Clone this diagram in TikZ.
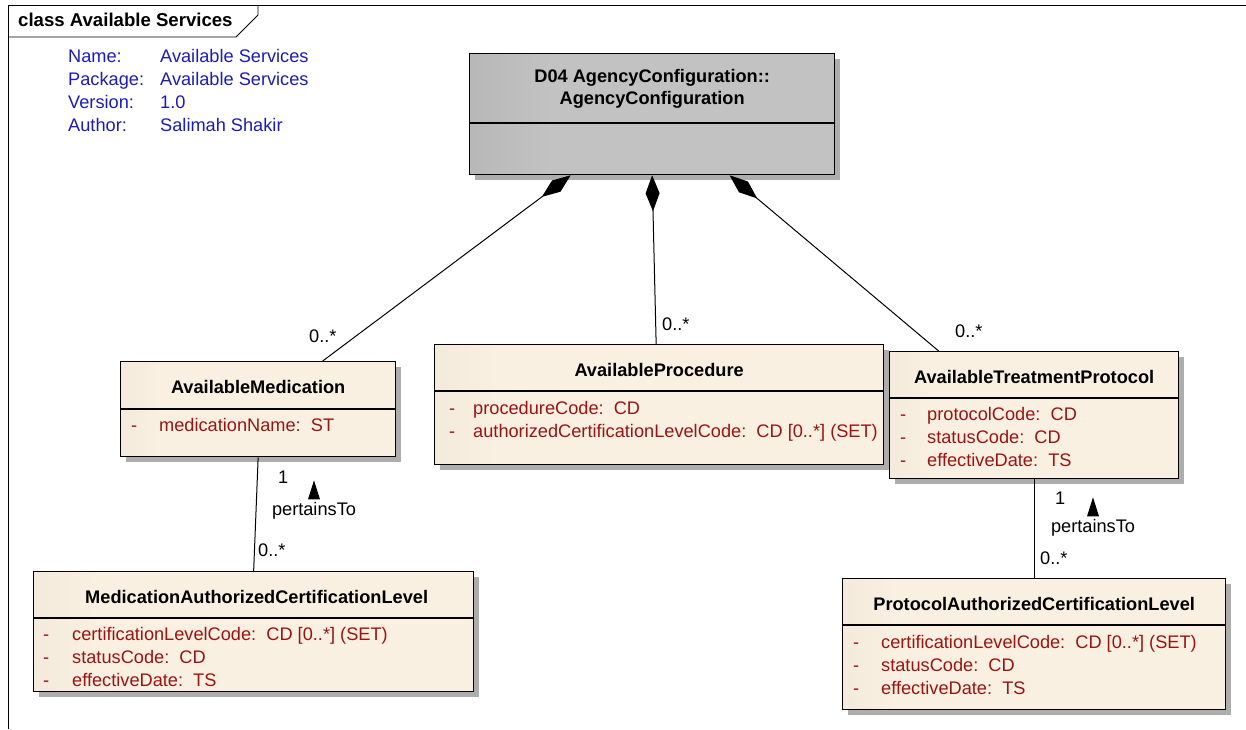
\documentclass[tikz,border=0pt]{standalone}
\usepackage{fontspec}
\setmainfont{Liberation Sans}
\usetikzlibrary{arrows.meta,shadows,calc}

\definecolor{infoblue}{RGB}{28,28,185}
\definecolor{attrred}{RGB}{155,20,20}
\definecolor{beigelight}{RGB}{250,240,226}
\definecolor{beigedark}{RGB}{224,214,199}
\definecolor{graydark}{RGB}{160,160,160}
\definecolor{graylight}{RGB}{194,194,194}

\pgfdeclarehorizontalshading{beigeshade}{100bp}{color(0bp)=(beigedark); color(32bp)=(beigelight); color(100bp)=(beigelight)}
\pgfdeclarehorizontalshading{grayshade}{100bp}{color(0bp)=(graydark); color(36bp)=(graylight); color(100bp)=(graylight)}

\tikzset{
  umlclass/.style={draw, line width=1.3pt, anchor=north west, inner sep=0pt, shading=beigeshade,
    drop shadow={shadow xshift=5pt, shadow yshift=-5pt, fill=black!32, opacity=1}},
  classname/.style={font=\fontsize{18.2}{22}\selectfont\bfseries, inner sep=0pt, align=center},
  attr/.style={anchor=west, inner sep=0pt, text=attrred, text height=13pt, text depth=0pt},
  mult/.style={anchor=west, inner sep=0pt, text height=13pt, text depth=0pt},
  info/.style={anchor=west, inner sep=0pt, text=infoblue, text height=13pt, text depth=0pt},
  comp/.style={arrows={Diamond[length=36pt,width=14pt]-}, line width=1pt},
}

\begin{document}
\begin{tikzpicture}[x=1pt, y=-1pt, font=\fontsize{18.2}{21}\selectfont]
	\useasboundingbox (0,0) rectangle (1246,729);
	% diagram frame
	\draw[line width=0.8pt] (8,729) -- (8,5) -- (1246,5);
	\draw[line width=0.8pt] (8,37) -- (236,37) -- (258,15) -- (258,5);
	\node[anchor=west, inner sep=0pt, font=\fontsize{18.6}{21}\selectfont\bfseries] (frametitle) at (18,20) {class Available Services};
	\foreach \key/\val [count=\i] in {Name:/Available Services, Package:/Available Services, Version:/1.0, Author:/Salimah Shakir} {
	  \node[info] (key\i) at (68,{56+23*(\i-1)}) {\key};
	  \node[info] (val\i) at (160,{56+23*(\i-1)}) {\val};
	}

	% classes
	\node[umlclass, shading=grayshade, minimum width=365pt, minimum height=121pt] (agency) at (469,53) {};
	\draw[line width=1.3pt] ([yshift=-70pt]agency.north west) -- ([yshift=-70pt]agency.north east);
	\node[classname] (agencyT) at ($(agency.north)+(0,36)$) {D04 AgencyConfiguration::\\AgencyConfiguration};

	\node[umlclass, minimum width=275pt, minimum height=95pt] (med) at (120,361) {};
	\draw[line width=1.3pt] ([yshift=-48pt]med.north west) -- ([yshift=-48pt]med.north east);
	\node[classname] (medT) at ($(med.north)+(0,26)$) {AvailableMedication};
	\node[attr] (med-d1) at ($(med.north west)+(11,64)$) {-};
	\node[attr] (med-a1) at ($(med.north west)+(39,64)$) {medicationName:~~ST};

	\node[umlclass, minimum width=449pt, minimum height=120pt] (proc) at (434,344) {};
	\draw[line width=1.3pt] ([yshift=-47pt]proc.north west) -- ([yshift=-47pt]proc.north east);
	\node[classname] (procT) at ($(proc.north)+(0,26)$) {AvailableProcedure};
	\foreach \txt [count=\i] in {procedureCode:~~CD, authorizedCertificationLevelCode:~~CD [0..*] (SET)} {
	  \node[attr] (proc-d\i) at ($(proc.north west)+(15,{64+23*(\i-1)})$) {-};
	  \node[attr] (proc-a\i) at ($(proc.north west)+(39,{64+23*(\i-1)})$) {\txt};
	}

	\node[umlclass, minimum width=289pt, minimum height=127pt] (atp) at (889,351) {};
	\draw[line width=1.3pt] ([yshift=-47pt]atp.north west) -- ([yshift=-47pt]atp.north east);
	\node[classname] (atpT) at ($(atp.north)+(0,26)$) {AvailableTreatmentProtocol};
	\foreach \txt [count=\i] in {protocolCode:~~CD, statusCode:~~CD, effectiveDate:~~TS} {
	  \node[attr] (atp-d\i) at ($(atp.north west)+(11,{63+23*(\i-1)})$) {-};
	  \node[attr] (atp-a\i) at ($(atp.north west)+(38,{63+23*(\i-1)})$) {\txt};
	}

	\node[umlclass, minimum width=440pt, minimum height=120pt] (macl) at (33,571) {};
	\draw[line width=1.3pt] ([yshift=-47pt]macl.north west) -- ([yshift=-47pt]macl.north east);
	\node[classname] (maclT) at ($(macl.north)+(3,26)$) {MedicationAuthorizedCertificationLevel};
	\foreach \txt [count=\i] in {certificationLevelCode:~~CD [0..*] (SET), statusCode:~~CD, effectiveDate:~~TS} {
	  \node[attr] (macl-d\i) at ($(macl.north west)+(10,{63+23*(\i-1)})$) {-};
	  \node[attr] (macl-a\i) at ($(macl.north west)+(39,{63+23*(\i-1)})$) {\txt};
	}

	\node[umlclass, minimum width=383pt, minimum height=131pt] (pacl) at (842,578) {};
	\draw[line width=1.3pt] ([yshift=-47pt]pacl.north west) -- ([yshift=-47pt]pacl.north east);
	\node[classname] (paclT) at ($(pacl.north)+(0,26)$) {ProtocolAuthorizedCertificationLevel};
	\foreach \txt [count=\i] in {certificationLevelCode:~~CD [0..*] (SET), statusCode:~~CD, effectiveDate:~~TS} {
	  \node[attr] (pacl-d\i) at ($(pacl.north west)+(11,{64+23*(\i-1)})$) {-};
	  \node[attr] (pacl-a\i) at ($(pacl.north west)+(39,{64+23*(\i-1)})$) {\txt};
	}

	% compositions
	\draw[comp] ([xshift=-81.5pt]agency.south) -- ([xshift=64.5pt]med.north);
	\draw[comp] (agency.south) -- ([xshift=-3pt]proc.north);
	\draw[comp] ([xshift=77.5pt]agency.south) -- ([xshift=-95.5pt]atp.north);
	\node[mult] (m1) at (309,336) {0..*};
	\node[mult] (m2) at (662,324) {0..*};
	\node[mult] (m3) at (955,331) {0..*};

	% associations
	\draw[line width=1pt] (med.south) -- (macl.north);
	\node[mult] (medOne) at (278,477) {1};
	\node[mult, anchor=center] (medRole) at (314,509) {pertainsTo};
	\fill ($(medRole.north)+(-6,-3)$) -- ($(medRole.north)+(6,-3)$) -- ($(medRole.north)+(0,-22)$) -- cycle;
	\node[mult] (medMany) at (258,550) {0..*};

	\draw[line width=1pt] (atp.south) -- (pacl.north);
	\node[mult] (atpOne) at (1055,498) {1};
	\node[mult, anchor=center] (atpRole) at (1093,526) {pertainsTo};
	\fill ($(atpRole.north)+(-6,-3)$) -- ($(atpRole.north)+(6,-3)$) -- ($(atpRole.north)+(0,-22)$) -- cycle;
	\node[mult] (atpMany) at (1040,558) {0..*};
\end{tikzpicture}
\end{document}
